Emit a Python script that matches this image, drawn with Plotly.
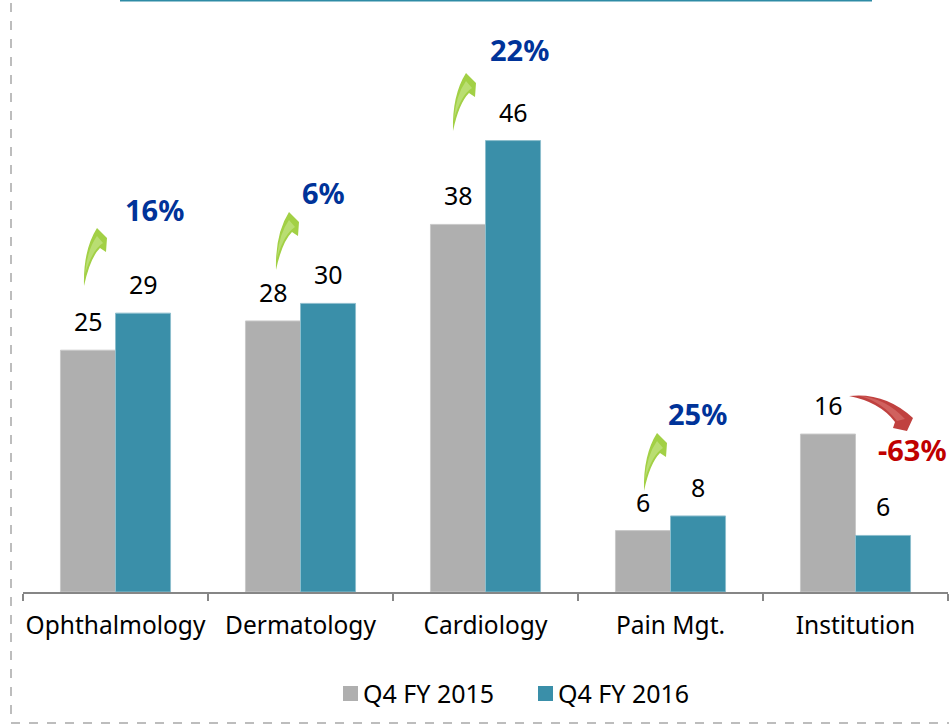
import plotly.graph_objects as go

categories = ["Ophthalmology", "Dermatology", "Cardiology", "Pain Mgt.", "Institution"]
series_names = ["Q4 FY 2015", "Q4 FY 2016"]
fy2015 = [24.8, 27.8, 37.7, 6.3, 16.2]
fy2016 = [28.6, 29.6, 46.3, 7.8, 5.8]
growth_labels = ["16%", "6%", "22%", "25%", "-63%"]
growth_colors = ["#003399", "#003399", "#003399", "#003399", "#C00000"]
GRAY, TEAL = "#AFAFAF", "#3A8FA9"

W, H = 949, 724
L, R, BASE = 23, 948, 592
FONT = "Noto Sans"


def px(x, y):
    return (x - L) / (R - L), (BASE - y) / BASE


def path(cmds):
    out = []
    for c, *pts in cmds:
        s = c
        for x, y in pts:
            a, b = px(x, y)
            s += f" {a:.5f},{b:.5f}"
        out.append(s)
    return " ".join(out) + " Z"


def shape(cmds, fill):
    return dict(type="path", xref="paper", yref="paper", path=path(cmds),
                fillcolor=fill, line=dict(width=0), layer="above")


def green_arrow(dx, dy):
    t = lambda x, y: (x + dx, y + dy)
    body = [("M", t(84, 286)), ("Q", t(83, 250), t(97, 228)), ("L", t(107, 238)),
            ("L", t(106, 252)), ("L", t(100, 248)), ("Q", t(90, 258), t(84, 286))]
    glow = [("M", t(85, 274)), ("Q", t(87, 250), t(97, 236)), ("L", t(103, 243)),
            ("Q", t(92, 250), t(85, 274))]
    return [shape(body, "#A2D045"), shape(glow, "#B9DE72")]


fig = go.Figure()
fig.add_bar(name=series_names[0], x=categories, y=fy2015, showlegend=False,
            marker=dict(color=GRAY, line=dict(color="#C9C9C9", width=1)))
fig.add_bar(name=series_names[1], x=categories, y=fy2016, showlegend=False,
            marker=dict(color=TEAL, line=dict(color="#8DBECD", width=1)))

annotations = []
for i, cat in enumerate(categories):
    for vals, xs in ((fy2015, -27.5), (fy2016, 27.5)):
        annotations.append(dict(x=cat, y=vals[i], xref="x", yref="y", text=f"{vals[i]:.0f}",
                                showarrow=False, xshift=xs, yshift=29, yanchor="middle",
                                font=dict(size=25, color="#000000", family=FONT)))

pct_pos = [(154, 209), (323, 193), (519, 49), (697, 413), (912, 449)]
for txt, col, (x, y) in zip(growth_labels, growth_colors, pct_pos):
    a, b = px(x, y)
    annotations.append(dict(x=a, y=b, xref="paper", yref="paper", text=f"<b>{txt}</b>", showarrow=False,
                            xanchor="center", yanchor="middle", font=dict(size=29, color=col, family=FONT)))

shapes = []
for d in [(0, 0), (192, -16), (369, -155), (560, 205)]:
    shapes += green_arrow(*d)
shapes.append(shape([("M", (849, 396)), ("Q", (885, 392), (913, 418)), ("L", (907, 431)), ("L", (893, 428)),
                     ("L", (895, 422)), ("Q", (880, 402), (849, 396))], "#C0413F"))
shapes.append(shape([("M", (860, 396)), ("Q", (885, 398), (905, 419)), ("L", (897, 421)),
                     ("Q", (882, 402), (860, 396))], "#D0615E"))

# frame decorations
for x0, y0, x1, y1, col, w, dash in [
    (120, 0.5, 872, 0.5, "#2E8BA5", 2, "solid"),
    (11, 3, 11, 723, "#BDBDBD", 2, "dash"),
    (11, 723, 949, 723, "#BDBDBD", 2, "dash"),
]:
    a0, b0 = px(x0, y0)
    a1, b1 = px(x1, y1)
    shapes.append(dict(type="line", xref="paper", yref="paper", x0=a0, y0=b0, x1=a1, y1=b1,
                       line=dict(color=col, width=w, dash=dash)))

# legend row
for name, col, sx in zip(series_names, (GRAY, TEAL), (343, 538)):
    a0, b0 = px(sx, 686)
    a1, b1 = px(sx + 15, 701)
    shapes.append(dict(type="rect", xref="paper", yref="paper", x0=a0, y0=b0, x1=a1, y1=b1,
                       fillcolor=col, line=dict(width=0)))
    a, b = px(sx + 18, 693)
    annotations.append(dict(x=a, y=b, xref="paper", yref="paper", text=name, showarrow=False,
                            xanchor="left", yanchor="middle", font=dict(size=25, color="#000000", family=FONT)))

fig.update_layout(
    width=W, height=H, barmode="group", bargap=0.405, bargroupgap=0,
    margin=dict(l=L, r=W - R, t=0, b=H - BASE, autoexpand=False),
    paper_bgcolor="white", plot_bgcolor="white",
    font=dict(family=FONT, color="#000000"),
    annotations=annotations, shapes=shapes, showlegend=False,
    xaxis=dict(type="category", range=[-0.5, 4.5], tickson="boundaries", ticks="outside", ticklen=7, tickwidth=1.5,
               tickcolor="#868686", showline=True, linecolor="#868686", linewidth=2, showgrid=False, tickangle=0,
               automargin=False, tickfont=dict(size=24.5, family=FONT, color="#000000"), ticklabelstandoff=11),
    yaxis=dict(range=[0, BASE / 9.75], visible=False, fixedrange=True),
)
fig.write_html("out.html", config={"displayModeBar": False},
               post_script="document.body.style.margin='0';document.body.style.overflow='hidden';")
